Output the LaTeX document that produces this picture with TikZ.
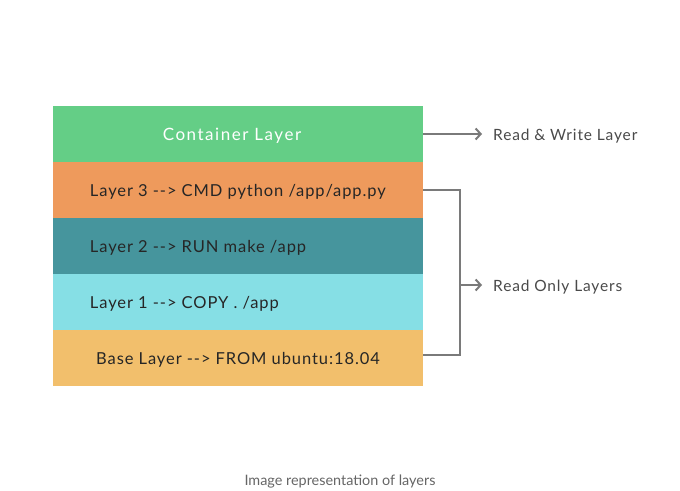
\documentclass[tikz,border=0pt]{standalone}
\usepackage{fontspec}
\setmainfont{Lato}[LetterSpace=5.5]
\newfontfamily\widefont{Lato}[LetterSpace=9]
\newfontfamily\capfont{Lato}
\usetikzlibrary{arrows.meta,positioning}
\definecolor{contgreen}{HTML}{64CE86}
\definecolor{layorange}{HTML}{EE9A5C}
\definecolor{layteal}{HTML}{46959D}
\definecolor{laycyan}{HTML}{86DFE5}
\definecolor{baseyellow}{HTML}{F2BF6C}
\definecolor{linegray}{HTML}{7A7A7A}
\definecolor{labelgray}{HTML}{4A4A4A}
\tikzset{Layer/.style={rectangle,minimum width=370bp,minimum height=56bp,inner sep=0}}
\tikzset{LayerText/.style={anchor=west,inner sep=0,yshift=-2bp,text=black!85,font=\fontsize{16.5bp}{20bp}\selectfont}}
\tikzset{SideText/.style={anchor=west,inner sep=0,yshift=-2bp,text=labelgray,font=\fontsize{15.5bp}{19bp}\selectfont}}
\tikzset{Conn/.style={draw=linegray,line width=2bp}}

\begin{document}
\begin{tikzpicture}[x=1bp,y=-1bp]
\useasboundingbox[fill=white] (0,0) rectangle (680,491);
% layer stack
\node (cont) at (238,134) [Layer,fill=contgreen] {};
\node (l3) at (238,190) [Layer,fill=layorange] {};
\node (l2) at (238,246) [Layer,fill=layteal] {};
\node (l1) at (238,302) [Layer,fill=laycyan] {};
\node (base) at (238,358) [Layer,fill=baseyellow] {};
\node (conttext) at (cont) [LayerText,anchor=center,xshift=-6bp,text=white,font=\widefont\fontsize{17bp}{20bp}\selectfont] {Container Layer};
\node (l3text) at ([xshift=37bp]l3.west) [LayerText] {Layer 3 -{}-> CMD python /app/app.py};
\node (l2text) at ([xshift=37bp]l2.west) [LayerText] {Layer 2 -{}-> RUN make /app};
\node (l1text) at ([xshift=37bp]l1.west) [LayerText] {Layer 1 -{}-> COPY . /app};
\node (basetext) at (base) [LayerText,anchor=center] {Base Layer -{}-> FROM ubuntu:18.04};
% side labels
\node (rw) at (493,134) [SideText] {Read \& Write Layer};
\node (ro) at (493,285) [SideText] {Read Only Layers};
\coordinate (brk) at (460,285);
\draw [Conn,-{Straight Barb[length=5bp,width=11bp]},shorten >=11bp] (cont.east) -- (cont.east -| rw.west);
\draw [Conn] (l3.east) -| ([yshift=3bp]brk |- base.east) -- ([yshift=3bp]base.east);
\draw [Conn,-{Straight Barb[length=5bp,width=11bp]},shorten >=11bp] (brk) -- (brk -| ro.west);
% caption
\node (caption) at (340,482) [text=black!60,font=\capfont\fontsize{14.4bp}{17bp}\selectfont] {Image representation of layers};
\end{tikzpicture}
\end{document}
